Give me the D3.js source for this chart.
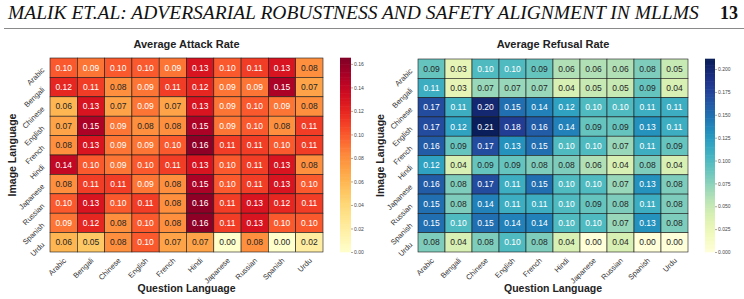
<!DOCTYPE html>
<html>
<head>
<meta charset="utf-8">
<script src="https://cdn.jsdelivr.net/npm/d3@7"></script>
<style>
    body { margin: 0; background: #fff; }
    svg { display: block; }
</style>
</head>
<body>
<script>
// languages (rows = image language, cols = question language)
const languages = ["Arabic", "Bengali", "Chinese", "English", "French", "Hindi", "Japanese", "Russian", "Spanish", "Urdu"];

const attackRate = [
    [0.10, 0.09, 0.10, 0.10, 0.09, 0.13, 0.10, 0.11, 0.13, 0.08],
    [0.12, 0.11, 0.08, 0.09, 0.11, 0.12, 0.09, 0.09, 0.15, 0.07],
    [0.06, 0.13, 0.07, 0.09, 0.07, 0.13, 0.09, 0.10, 0.09, 0.08],
    [0.07, 0.15, 0.09, 0.08, 0.08, 0.15, 0.09, 0.10, 0.08, 0.11],
    [0.08, 0.13, 0.09, 0.09, 0.10, 0.16, 0.11, 0.11, 0.10, 0.11],
    [0.14, 0.10, 0.09, 0.10, 0.11, 0.13, 0.10, 0.11, 0.13, 0.08],
    [0.08, 0.11, 0.11, 0.09, 0.08, 0.15, 0.10, 0.11, 0.13, 0.10],
    [0.10, 0.13, 0.10, 0.11, 0.08, 0.16, 0.11, 0.13, 0.12, 0.11],
    [0.09, 0.12, 0.08, 0.10, 0.08, 0.16, 0.11, 0.13, 0.10, 0.10],
    [0.06, 0.05, 0.08, 0.10, 0.07, 0.07, 0.00, 0.08, 0.00, 0.02],
];

const refusalRate = [
    [0.09, 0.03, 0.10, 0.10, 0.09, 0.06, 0.06, 0.06, 0.08, 0.05],
    [0.11, 0.03, 0.07, 0.07, 0.07, 0.04, 0.05, 0.05, 0.09, 0.04],
    [0.17, 0.11, 0.20, 0.15, 0.14, 0.12, 0.10, 0.10, 0.11, 0.11],
    [0.17, 0.12, 0.21, 0.18, 0.16, 0.14, 0.09, 0.09, 0.13, 0.11],
    [0.16, 0.09, 0.17, 0.13, 0.15, 0.10, 0.10, 0.07, 0.11, 0.09],
    [0.12, 0.04, 0.09, 0.09, 0.08, 0.08, 0.06, 0.04, 0.08, 0.04],
    [0.16, 0.08, 0.17, 0.11, 0.15, 0.10, 0.10, 0.07, 0.13, 0.08],
    [0.15, 0.08, 0.14, 0.11, 0.11, 0.10, 0.09, 0.08, 0.11, 0.08],
    [0.15, 0.10, 0.15, 0.14, 0.14, 0.10, 0.10, 0.07, 0.13, 0.08],
    [0.08, 0.04, 0.08, 0.10, 0.08, 0.04, 0.00, 0.04, 0.00, 0.00],
];

const attackTicks = [0, 0.02, 0.04, 0.06, 0.08, 0.10, 0.12, 0.14, 0.16];
const refusalTicks = [0, 0.025, 0.05, 0.075, 0.1, 0.125, 0.15, 0.175, 0.2];

const width = 744;
const height = 299;
const font = "'Liberation Sans', Arial, sans-serif";

const svg = d3
    .select("body")
    .append("svg")
    .attr("width", width)
    .attr("height", height)
    .style("font-family", font);

// page header
svg.append("text")
    .attr("x", 8)
    .attr("y", 19)
    .style("font-family", "'Liberation Serif', 'Times New Roman', serif")
    .style("font-style", "italic")
    .style("font-size", "19.5px")
    .style("fill", "#111")
    .text("MALIK ET.AL: ADVERSARIAL ROBUSTNESS AND SAFETY ALIGNMENT IN MLLMS");

svg.append("text")
    .attr("x", 738)
    .attr("y", 19)
    .attr("text-anchor", "end")
    .style("font-family", "'Liberation Serif', 'Times New Roman', serif")
    .style("font-weight", "bold")
    .style("font-size", "18px")
    .style("fill", "#111")
    .text("13");

svg.append("line")
    .attr("x1", 4).attr("x2", 744)
    .attr("y1", 28.5).attr("y2", 28.5)
    .attr("stroke", "#8a8a8a")
    .attr("stroke-width", 1);

// relative luminance (same rule seaborn uses to pick annotation colour)
function luminance(c) {
    const rgb = d3.rgb(c);
    const lin = [rgb.r, rgb.g, rgb.b].map(v => {
        v /= 255;
        return v <= 0.03928 ? v / 12.92 : Math.pow((v + 0.055) / 1.055, 2.4);
    });
    return 0.2126 * lin[0] + 0.7152 * lin[1] + 0.0722 * lin[2];
}

function drawHeatmap(o) {
    const g = svg.append("g");

    const xScale = d3.scaleBand().domain(languages).range([o.x0, o.x0 + o.w]);
    const yScale = d3.scaleBand().domain(languages).range([o.y0, o.y0 + o.h]);
    const color = d3.scaleSequential(o.interp).domain([0, o.vmax]);

    // cells
    const cells = o.data.flatMap((row, i) =>
        row.map((v, j) => ({ row: languages[i], col: languages[j], v }))
    );

    g.append("g")
        .selectAll("rect")
        .data(cells)
        .join("rect")
        .attr("x", d => xScale(d.col))
        .attr("y", d => yScale(d.row))
        .attr("width", xScale.bandwidth())
        .attr("height", yScale.bandwidth())
        .attr("fill", d => color(d.v))
        .attr("stroke", "#1a1a1a")
        .attr("stroke-width", 0.6);

    g.append("g")
        .selectAll("text")
        .data(cells)
        .join("text")
        .attr("x", d => xScale(d.col) + xScale.bandwidth() / 2)
        .attr("y", d => yScale(d.row) + yScale.bandwidth() / 2)
        .attr("dy", "0.35em")
        .attr("text-anchor", "middle")
        .style("font-size", "8.5px")
        .style("fill", d => luminance(color(d.v)) > 0.408 ? "#262626" : "#fff")
        .text(d => d3.format(".2f")(d.v));

    // axes
    const yAxisGroup = g.append("g")
        .attr("transform", `translate(${o.x0},0)`)
        .call(d3.axisLeft(yScale).tickSize(0));
    yAxisGroup.select(".domain").remove();
    yAxisGroup.selectAll("text")
        .attr("x", 0)
        .attr("dy", 0)
        .attr("text-anchor", "end")
        .attr("transform", "translate(-5,3) rotate(-45)")
        .style("font-family", font)
        .style("font-size", "7.5px")
        .style("fill", "#333");

    const xAxisGroup = g.append("g")
        .attr("transform", `translate(0,${o.y0 + o.h})`)
        .call(d3.axisBottom(xScale).tickSize(0));
    xAxisGroup.select(".domain").remove();
    xAxisGroup.selectAll("text")
        .attr("y", 0)
        .attr("dy", 0)
        .attr("text-anchor", "end")
        .attr("transform", "translate(3,9) rotate(-45)")
        .style("font-family", font)
        .style("font-size", "7.5px")
        .style("fill", "#333");

    // titles
    g.append("text")
        .attr("x", o.x0 + o.w / 2)
        .attr("y", 48)
        .attr("text-anchor", "middle")
        .style("font-size", "11px")
        .style("font-weight", "bold")
        .style("fill", "#222")
        .text(o.title);

    g.append("text")
        .attr("x", o.x0 + o.w / 2)
        .attr("y", 292)
        .attr("text-anchor", "middle")
        .style("font-size", "10.5px")
        .style("font-weight", "bold")
        .style("fill", "#222")
        .text("Question Language");

    g.append("text")
        .attr("transform", `translate(${o.ylabelX},${o.y0 + o.h / 2}) rotate(-90)`)
        .attr("text-anchor", "middle")
        .style("font-size", "10.5px")
        .style("font-weight", "bold")
        .style("fill", "#222")
        .text("Image Language");

    // colorbar
    const cbScale = d3.scaleLinear().domain([0, o.vmax]).range([o.y0 + o.h, o.y0]);
    const steps = d3.range(0, 120).map(i => (i / 120) * o.vmax);
    g.append("g")
        .selectAll("rect")
        .data(steps)
        .join("rect")
        .attr("x", o.cbX)
        .attr("y", d => cbScale(d + o.vmax / 120) - 0.3)
        .attr("width", o.cbW)
        .attr("height", cbScale(0) - cbScale(o.vmax / 120) + 0.6)
        .attr("fill", d => color(d + o.vmax / 240));

    const cbAxis = g.append("g")
        .attr("transform", `translate(${o.cbX + o.cbW},0)`)
        .call(d3.axisRight(cbScale).tickValues(o.ticks).tickSize(2).tickPadding(1).tickFormat(d3.format(o.tickFmt)));
    cbAxis.select(".domain").remove();
    cbAxis.selectAll("line").attr("stroke", "#555").attr("stroke-width", 0.5);
    cbAxis.selectAll("text")
        .style("font-family", font)
        .style("font-size", "5px")
        .style("fill", "#444");
}

drawHeatmap({
    data: attackRate,
    title: "Average Attack Rate",
    interp: d3.interpolateYlOrRd,
    vmax: 0.165,
    ticks: attackTicks,
    tickFmt: ".2f",
    x0: 50, y0: 58, w: 273, h: 194,
    ylabelX: 16,
    cbX: 340, cbW: 11,
});

drawHeatmap({
    data: refusalRate,
    title: "Average Refusal Rate",
    interp: d3.interpolateYlGnBu,
    vmax: 0.211,
    ticks: refusalTicks,
    tickFmt: ".3f",
    x0: 418, y0: 59, w: 270, h: 193,
    ylabelX: 384,
    cbX: 705, cbW: 10,
});
</script>
</body>
</html>
